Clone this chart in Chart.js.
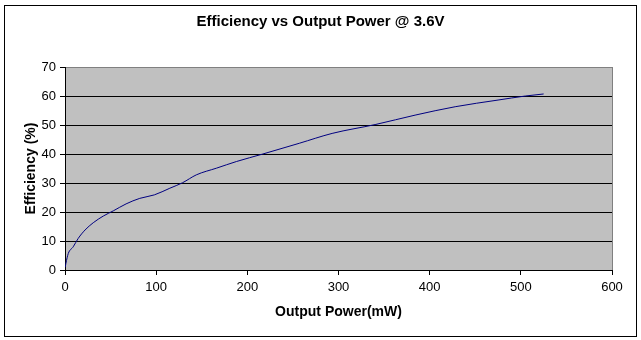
<!DOCTYPE html>
<html>
<head>
<meta charset="utf-8">
<script src="https://cdn.jsdelivr.net/npm/chart.js@4"></script>
<style>
  body { margin: 0; background: #fff; }
  canvas { display: block; }
</style>
</head>
<body>
<canvas id="chart" width="641" height="340"></canvas>
<script>
const powerMw = [0.3, 1, 3.6, 9, 14.5, 22, 31, 42, 53, 67, 82, 98, 115, 129, 144, 166, 188, 217, 257, 293, 341, 384, 428, 475, 505, 525];
const efficiencyPct = [1, 2.3, 5.7, 8, 10.9, 13.8, 16.3, 18.6, 20.4, 22.8, 24.7, 25.9, 28.2, 30.1, 32.8, 35.1, 37.4, 40, 43.7, 47.1, 50.2, 53.4, 56.3, 58.6, 60, 60.7];
const xTicks = [0, 100, 200, 300, 400, 500, 600];
const yTicks = [0, 10, 20, 30, 40, 50, 60, 70];

const FONT = '"Liberation Sans", Arial, sans-serif';
const TICK_FONT = '"Liberation Sans Narrow", "Liberation Sans", Arial, sans-serif';

// gray plot area + outer frame, like the old Excel look
const frame = {
    id: 'frame',
    afterLayout(chart) {
        // centre the title on the whole picture, not on the padded box
        if (chart.titleBlock) {
            chart.titleBlock.left = 0;
            chart.titleBlock.right = chart.width;
        }
    },
    beforeDraw(chart) {
        const { ctx, chartArea: a } = chart;
        ctx.save();
        ctx.fillStyle = '#fff';
        ctx.fillRect(0, 0, chart.width, chart.height);
        ctx.strokeStyle = '#000';
        ctx.lineWidth = 1;
        ctx.strokeRect(4.5, 5.5, 632, 331);
        ctx.fillStyle = '#c0c0c0';
        ctx.fillRect(a.left, a.top, a.right - a.left, a.bottom - a.top);
        ctx.strokeStyle = '#808080';
        ctx.strokeRect(a.left + 0.5, a.top + 0.5, a.right - a.left, a.bottom - a.top);
        ctx.restore();
    }
};

const ctx = document.getElementById('chart').getContext('2d');
const chart = new Chart(ctx, {
    type: 'line',
    data: {
        datasets: [{
            label: 'Efficiency',
            data: powerMw.map((p, i) => ({ x: p, y: efficiencyPct[i] })),
            borderColor: '#000080',
            borderWidth: 1,
            pointRadius: 0,
            tension: 0.3,
            cubicInterpolationMode: 'monotone',
            fill: false
        }]
    },
    options: {
        responsive: false,
        animation: false,
        layout: { padding: { left: 5, right: 29, top: 0, bottom: 0 } },
        plugins: {
            legend: { display: false },
            tooltip: { enabled: false },
            title: {
                display: true,
                text: 'Efficiency vs Output Power @ 3.6V',
                color: '#000',
                font: { family: FONT, size: 15, weight: 'bold' },
                padding: { top: 13, bottom: 36 }
            }
        },
        scales: {
            x: {
                type: 'linear',
                min: 0,
                max: 600,
                afterBuildTicks: s => { s.ticks = xTicks.map(v => ({ value: v })); },
                afterFit: s => { s.height = 70; },
                grid: { drawOnChartArea: false, drawTicks: true, tickLength: 5, color: '#000' },
                border: { color: '#000' },
                ticks: { color: '#000', padding: 5, font: { family: TICK_FONT, size: 13 } },
                title: {
                    display: true,
                    text: 'Output Power(mW)',
                    color: '#000',
                    font: { family: FONT, size: 14, weight: 'bold' },
                    padding: { top: 0, bottom: 19.6 }
                }
            },
            y: {
                min: 0,
                max: 70,
                afterBuildTicks: s => { s.ticks = yTicks.map(v => ({ value: v })); },
                afterFit: s => { s.width = 60; },
                grid: {
                    color: c => (c.tick && c.tick.value === 70 ? '#808080' : '#000'),
                    tickColor: '#000',
                    tickLength: 5
                },
                border: { color: '#000' },
                ticks: { color: '#000', padding: 4, font: { family: TICK_FONT, size: 13 } },
                title: {
                    display: true,
                    text: 'Efficiency (%)',
                    color: '#000',
                    font: { family: FONT, size: 14, weight: 'bold' },
                    padding: { top: 17.6, bottom: 0 }
                }
            }
        }
    },
    plugins: [frame]
});
</script>
</body>
</html>
